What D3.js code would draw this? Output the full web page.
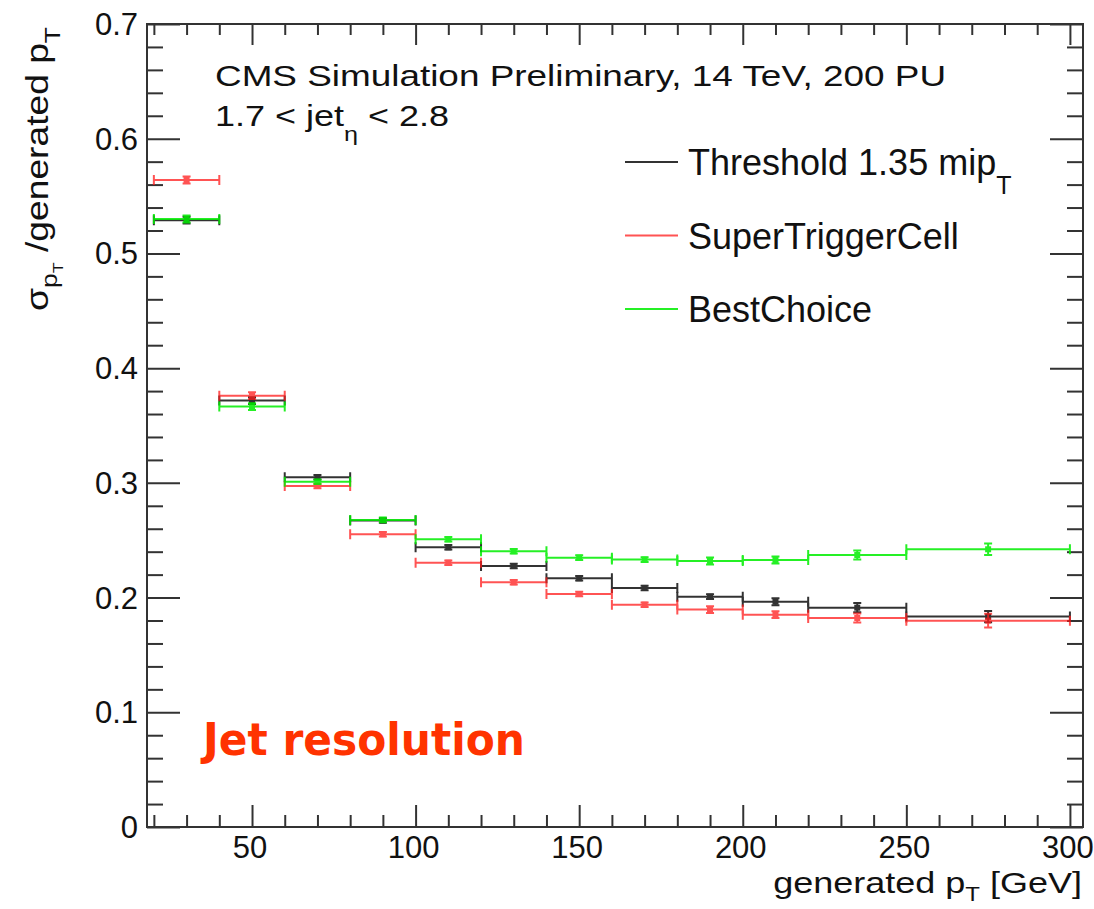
<!DOCTYPE html>
<html>
<head>
<meta charset="utf-8">
<script src="https://cdn.jsdelivr.net/npm/d3@7"></script>
<style>
  html, body { margin: 0; padding: 0; background: #fff; }
  svg text { font-family: 'Liberation Sans', Arial, Helvetica, sans-serif; fill: #111; }
</style>
</head>
<body>
<svg id="chart" width="1094" height="909"></svg>
<script>
'use strict';

// bins in generated pT [GeV]
const binLow  = [ 20, 40, 60, 80, 100, 120, 140, 160, 180, 200, 220, 250 ];
const binHigh = [ 40, 60, 80, 100, 120, 140, 160, 180, 200, 220, 250, 300 ];

// resolution per bin (sigma / generated pT)
const threshold    = [ 0.529, 0.3717, 0.3049, 0.2672, 0.2438, 0.2275, 0.2168, 0.2084, 0.2008, 0.1964, 0.1912, 0.1834 ];
const thresholdErr = [ 0.003, 0.003, 0.002, 0.002, 0.002, 0.002, 0.002, 0.002, 0.002, 0.003, 0.004, 0.005 ];
const superTC      = [ 0.564, 0.376, 0.2973, 0.2552, 0.2304, 0.2133, 0.2031, 0.1938, 0.1895, 0.1851, 0.1822, 0.1799 ];
const superTCErr   = [ 0.003, 0.003, 0.002, 0.002, 0.002, 0.002, 0.002, 0.002, 0.003, 0.003, 0.004, 0.006 ];
const bestChoice   = [ 0.530, 0.3665, 0.301, 0.2677, 0.2508, 0.2404, 0.2348, 0.2331, 0.2319, 0.2328, 0.2371, 0.2421 ];
const bestChoiceErr= [ 0.003, 0.003, 0.002, 0.002, 0.002, 0.002, 0.002, 0.002, 0.003, 0.003, 0.004, 0.005 ];

// axis ticks
const xMajorTicks = [ 50, 100, 150, 200, 250, 300 ];
const yMajorTicks = [ 0, 0.1, 0.2, 0.3, 0.4, 0.5, 0.6, 0.7 ];

const series = [
  { name: 'threshold',  values: threshold,  errors: thresholdErr,  color: '#000000', opacity: 0.8 },
  { name: 'superTC',    values: superTC,    errors: superTCErr,    color: '#ff1a1a', opacity: 0.75 },
  { name: 'bestChoice', values: bestChoice, errors: bestChoiceErr, color: '#00ee00', opacity: 0.85 }
];

const frame = { left: 147, right: 1083, top: 24, bottom: 827 };

const svg = d3.select( '#chart' );

// scales
const x = d3.scaleLinear()
            .domain( [ 17.9, 304 ] )
            .range( [ frame.left, frame.right ] );
const y = d3.scaleLinear()
            .domain( [ 0, 0.7 ] )
            .range( [ frame.bottom, frame.top ] );

const xMinor = d3.range( 20, 301, 10 ).filter( (v) => v % 50 != 0 ),
      yMinor = d3.range( 0, 71, 2 ).map( (v) => v / 100 ).filter( (v) => Math.round( v * 100 ) % 10 != 0 );

// axes, ROOT style: ticks inside on all four sides
const axisStyle = (g) => g.call( (s) => s.select( '.domain' ).remove() )
                          .call( (s) => s.selectAll( 'line' ).attr( 'stroke', '#333' ).attr( 'stroke-width', 2 ) );

svg.append( 'g' )
    .attr( 'transform', `translate(0,${frame.bottom})` )
    .call( d3.axisTop( x ).tickValues( xMajorTicks ).tickSize( 22 ).tickFormat( '' ) )
    .call( axisStyle );
svg.append( 'g' )
    .attr( 'transform', `translate(0,${frame.bottom})` )
    .call( d3.axisTop( x ).tickValues( xMinor ).tickSize( 12 ).tickFormat( '' ) )
    .call( axisStyle );
svg.append( 'g' )
    .attr( 'transform', `translate(0,${frame.top})` )
    .call( d3.axisBottom( x ).tickValues( xMajorTicks ).tickSize( 21 ).tickFormat( '' ) )
    .call( axisStyle );
svg.append( 'g' )
    .attr( 'transform', `translate(0,${frame.top})` )
    .call( d3.axisBottom( x ).tickValues( xMinor ).tickSize( 11 ).tickFormat( '' ) )
    .call( axisStyle );
svg.append( 'g' )
    .attr( 'transform', `translate(${frame.left},0)` )
    .call( d3.axisRight( y ).tickValues( yMajorTicks ).tickSize( 33 ).tickFormat( '' ) )
    .call( axisStyle );
svg.append( 'g' )
    .attr( 'transform', `translate(${frame.left},0)` )
    .call( d3.axisRight( y ).tickValues( yMinor ).tickSize( 16 ).tickFormat( '' ) )
    .call( axisStyle );
svg.append( 'g' )
    .attr( 'transform', `translate(${frame.right},0)` )
    .call( d3.axisLeft( y ).tickValues( yMajorTicks ).tickSize( 33 ).tickFormat( '' ) )
    .call( axisStyle );
svg.append( 'g' )
    .attr( 'transform', `translate(${frame.right},0)` )
    .call( d3.axisLeft( y ).tickValues( yMinor ).tickSize( 16 ).tickFormat( '' ) )
    .call( axisStyle );

// frame
svg.append( 'rect' )
    .attr( 'x', frame.left )
    .attr( 'y', frame.top )
    .attr( 'width', frame.right - frame.left )
    .attr( 'height', frame.bottom - frame.top )
    .attr( 'fill', 'none' )
    .attr( 'stroke', '#333' )
    .attr( 'stroke-width', 2 );

// tick labels
svg.append( 'g' )
  .selectAll( 'text' )
    .data( xMajorTicks )
  .enter().append( 'text' )
    .attr( 'x', (d) => x( d ) - 2 )
    .attr( 'y', 858 )
    .attr( 'text-anchor', 'middle' )
    .style( 'font-size', '31px' )
    .text( (d) => d );
svg.append( 'g' )
  .selectAll( 'text' )
    .data( yMajorTicks )
  .enter().append( 'text' )
    .attr( 'x', 138 )
    .attr( 'y', (d) => y( d ) + 11 )
    .attr( 'text-anchor', 'end' )
    .style( 'font-size', '31px' )
    .text( (d) => d === 0 ? '0' : d3.format( '.1f' )( d ) );

// axis titles (the original text is drawn wide, so stretch along the baseline)
const xTitle = svg.append( 'text' )
                  .attr( 'transform', 'translate(1082,893) scale(1.2,1)' )
                  .attr( 'text-anchor', 'end' )
                  .style( 'font-size', '30px' );
xTitle.append( 'tspan' ).text( 'generated p' );
xTitle.append( 'tspan' ).attr( 'dy', 8 ).style( 'font-size', '20px' ).text( 'T' );
xTitle.append( 'tspan' ).attr( 'dy', -8 ).text( ' [GeV]' );

const yTitle = svg.append( 'text' )
                  .attr( 'transform', 'translate(48,27) rotate(-90) scale(1.2,1)' )
                  .attr( 'text-anchor', 'end' )
                  .style( 'font-size', '31px' );
yTitle.append( 'tspan' ).text( 'σ' );
yTitle.append( 'tspan' ).attr( 'dy', 9 ).style( 'font-size', '22px' ).text( 'p' );
yTitle.append( 'tspan' ).attr( 'dy', 6 ).style( 'font-size', '15px' ).text( 'T' );
yTitle.append( 'tspan' ).attr( 'dy', -15 ).text( ' /generated p' );
yTitle.append( 'tspan' ).attr( 'dy', 12 ).style( 'font-size', '22px' ).text( 'T' );

// header text
svg.append( 'text' )
    .attr( 'transform', 'translate(215,86) scale(1.23,1)' )
    .style( 'font-size', '30px' )
    .text( 'CMS Simulation Preliminary, 14 TeV, 200 PU' );
const etaText = svg.append( 'text' )
                   .attr( 'transform', 'translate(215,126) scale(1.2,1)' )
                   .style( 'font-size', '30px' );
etaText.append( 'tspan' ).text( '1.7 < jet' );
etaText.append( 'tspan' ).attr( 'dy', 15 ).style( 'font-size', '21px' ).text( 'η' );
etaText.append( 'tspan' ).attr( 'dy', -15 ).text( ' < 2.8' );

// data points: horizontal bin bars, vertical error bars, markers
const binIdx = d3.range( binLow.length );
series.forEach( (s) => {
  const g = svg.append( 'g' )
                .attr( 'class', 'series ' + s.name )
                .attr( 'stroke', s.color )
                .attr( 'fill', s.color )
                .attr( 'stroke-width', 2 )
                .attr( 'opacity', s.opacity );
  const pts = g.selectAll( '.pt' )
                .data( binIdx )
              .enter().append( 'g' )
                .attr( 'class', 'pt' );
  const cx = (i) => x( ( binLow[i] + binHigh[i] ) / 2 );
  // horizontal bar
  pts.append( 'line' )
      .attr( 'x1', (i) => x( binLow[i] ) )
      .attr( 'x2', (i) => x( binHigh[i] ) )
      .attr( 'y1', (i) => y( s.values[i] ) )
      .attr( 'y2', (i) => y( s.values[i] ) );
  // end caps on bin edges
  pts.append( 'path' )
      .attr( 'd', (i) => {
        const yy = y( s.values[i] ), x0 = x( binLow[i] ), x1 = x( binHigh[i] );
        return `M${x0},${yy - 5}V${yy + 5}M${x1},${yy - 5}V${yy + 5}`;
      });
  // vertical error bar with caps
  pts.append( 'path' )
      .attr( 'd', (i) => {
        const c = cx( i ), y0 = y( s.values[i] - s.errors[i] ), y1 = y( s.values[i] + s.errors[i] );
        return `M${c},${y0}V${y1}M${c - 4},${y0}H${c + 4}M${c - 4},${y1}H${c + 4}`;
      });
  // marker
  pts.append( 'rect' )
      .attr( 'x', (i) => cx( i ) - 3 )
      .attr( 'y', (i) => y( s.values[i] ) - 3 )
      .attr( 'width', 6 )
      .attr( 'height', 6 )
      .attr( 'stroke', 'none' );
});

// legend
const legendLabels = [
  [ 'Threshold 1.35 mip', 'T' ],
  [ 'SuperTriggerCell', '' ],
  [ 'BestChoice', '' ]
];
const legend = svg.append( 'g' )
                  .selectAll( '.entry' )
                    .data( series )
                  .enter().append( 'g' )
                    .attr( 'class', 'entry' )
                    .attr( 'transform', (d, i) => `translate(0,${162 + i * 73.5})` );
legend.append( 'line' )
        .attr( 'x1', 625 )
        .attr( 'x2', 678 )
        .attr( 'stroke', (d) => d.color )
        .attr( 'stroke-width', 2 )
        .attr( 'opacity', (d) => d.opacity );
const legendText = legend.append( 'text' )
                          .attr( 'x', 688 )
                          .attr( 'y', 13 )
                          .style( 'font-size', '36px' );
legendText.append( 'tspan' ).text( (d, i) => legendLabels[i][0] );
legendText.append( 'tspan' )
            .attr( 'dy', 19 )
            .style( 'font-size', '25px' )
            .text( (d, i) => legendLabels[i][1] );

// annotation
svg.append( 'text' )
    .attr( 'x', 203 )
    .attr( 'y', 755 )
    .attr( 'textLength', 322 )
    .attr( 'lengthAdjust', 'spacingAndGlyphs' )
    .style( 'font-family', "'Comic Sans MS', 'DejaVu Sans', sans-serif" )
    .style( 'font-weight', 'bold' )
    .style( 'font-size', '44px' )
    .style( 'fill', '#ff3300' )
    .text( 'Jet resolution' );
</script>
</body>
</html>
